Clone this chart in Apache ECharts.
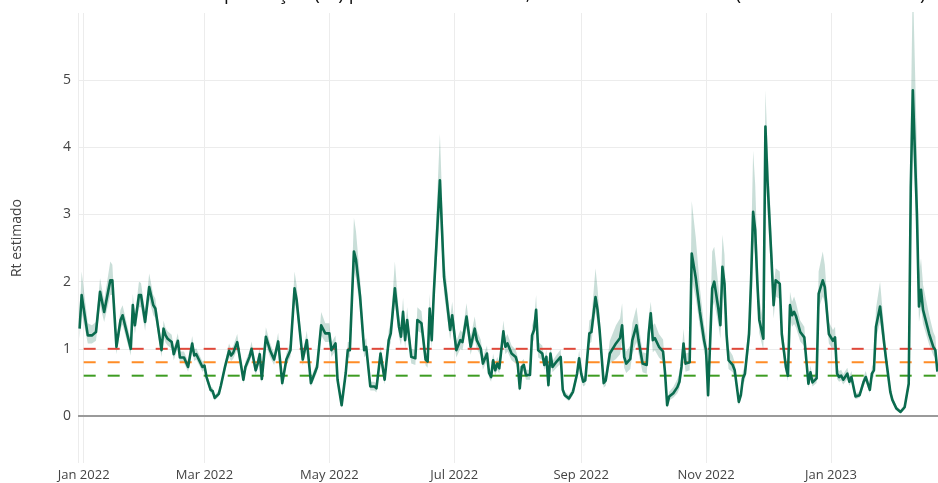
<!DOCTYPE html>
<html>
<head>
<meta charset="utf-8">
<script src="https://cdn.jsdelivr.net/npm/echarts@6/dist/echarts.min.js"></script>
<style>
html,body{margin:0;padding:0;background:#fff;}
#chart{width:938px;height:483px;}
</style>
</head>
<body>
<div id="chart"></div>
<script>
// ---- data ----
const titleText = "Número de reprodução (Rt) para Belo Horizonte, estimado diariamente (dez/2021 a fev/2023)";
const yAxisName = "Rt estimado";

const dates = [
"2021-12-30","2021-12-31","2022-01-03","2022-01-05","2022-01-07","2022-01-09","2022-01-11","2022-01-14","2022-01-15","2022-01-17",
"2022-01-19","2022-01-20","2022-01-24","2022-01-25","2022-01-26","2022-01-28","2022-01-29","2022-01-31","2022-02-02","2022-02-04",
"2022-02-05","2022-02-08","2022-02-09","2022-02-10","2022-02-11","2022-02-13","2022-02-14","2022-02-16","2022-02-17","2022-02-19",
"2022-02-21","2022-02-23","2022-02-24","2022-02-25","2022-02-28","2022-03-01","2022-03-02","2022-03-04","2022-03-05","2022-03-06",
"2022-03-08","2022-03-09","2022-03-11","2022-03-13","2022-03-14","2022-03-15","2022-03-17","2022-03-18","2022-03-20","2022-03-21",
"2022-03-23","2022-03-24","2022-03-26","2022-03-27","2022-03-28","2022-03-29","2022-03-31","2022-04-02","2022-04-04","2022-04-06",
"2022-04-08","2022-04-10","2022-04-12","2022-04-14","2022-04-15","2022-04-18","2022-04-20","2022-04-22","2022-04-25","2022-04-27",
"2022-04-29","2022-05-01","2022-05-02","2022-05-04","2022-05-05","2022-05-07","2022-05-09","2022-05-10","2022-05-11","2022-05-13",
"2022-05-14","2022-05-16","2022-05-18","2022-05-19","2022-05-21","2022-05-23","2022-05-24","2022-05-26","2022-05-28","2022-05-30",
"2022-05-31","2022-06-02","2022-06-04","2022-06-05","2022-06-06","2022-06-07","2022-06-08","2022-06-10","2022-06-12","2022-06-13",
"2022-06-15","2022-06-17","2022-06-18","2022-06-19","2022-06-20","2022-06-21","2022-06-24","2022-06-26","2022-06-27","2022-06-29",
"2022-06-30","2022-07-02","2022-07-04","2022-07-05","2022-07-07","2022-07-09","2022-07-11","2022-07-12","2022-07-14","2022-07-15",
"2022-07-17","2022-07-18","2022-07-19","2022-07-20","2022-07-21","2022-07-22","2022-07-23","2022-07-25","2022-07-26","2022-07-27",
"2022-07-29","2022-07-31","2022-08-01","2022-08-02","2022-08-03","2022-08-04","2022-08-05","2022-08-07","2022-08-08","2022-08-09",
"2022-08-10","2022-08-11","2022-08-13","2022-08-14","2022-08-15","2022-08-16","2022-08-17","2022-08-18","2022-08-20","2022-08-22",
"2022-08-23","2022-08-24","2022-08-26","2022-08-28","2022-08-30","2022-08-31","2022-09-01","2022-09-02","2022-09-03","2022-09-05",
"2022-09-06","2022-09-08","2022-09-09","2022-09-10","2022-09-12","2022-09-13","2022-09-15","2022-09-18","2022-09-20","2022-09-21",
"2022-09-22","2022-09-23","2022-09-25","2022-09-26","2022-09-28","2022-09-29","2022-10-01","2022-10-03","2022-10-04","2022-10-05",
"2022-10-06","2022-10-07","2022-10-09","2022-10-11","2022-10-12","2022-10-13","2022-10-14","2022-10-16","2022-10-18","2022-10-19",
"2022-10-20","2022-10-21","2022-10-22","2022-10-24","2022-10-25","2022-10-27","2022-10-29","2022-10-31","2022-11-01","2022-11-02",
"2022-11-04","2022-11-05","2022-11-07","2022-11-08","2022-11-09","2022-11-10","2022-11-11","2022-11-12","2022-11-14","2022-11-15",
"2022-11-17","2022-11-18","2022-11-19","2022-11-20","2022-11-22","2022-11-23","2022-11-24","2022-11-25","2022-11-26","2022-11-27",
"2022-11-29","2022-11-30","2022-12-01","2022-12-03","2022-12-04","2022-12-05","2022-12-07","2022-12-08","2022-12-10","2022-12-11",
"2022-12-12","2022-12-13","2022-12-14","2022-12-15","2022-12-17","2022-12-19","2022-12-21","2022-12-22","2022-12-23","2022-12-25",
"2022-12-26","2022-12-28","2022-12-29","2022-12-31","2023-01-02","2023-01-03","2023-01-04","2023-01-05","2023-01-06","2023-01-07",
"2023-01-09","2023-01-10","2023-01-11","2023-01-13","2023-01-15","2023-01-17","2023-01-18","2023-01-20","2023-01-21","2023-01-22",
"2023-01-23","2023-01-25","2023-01-27","2023-01-28","2023-01-30","2023-01-31","2023-02-02","2023-02-04","2023-02-06","2023-02-08",
"2023-02-09","2023-02-10","2023-02-12","2023-02-13","2023-02-14","2023-02-15","2023-02-18","2023-02-20","2023-02-21","2023-02-22"
];

const rt = [
1.30,1.80,1.20,1.20,1.25,1.85,1.55,2.02,2.02,1.03,
1.43,1.50,1.00,1.65,1.35,1.80,1.80,1.40,1.92,1.65,
1.60,0.98,1.30,1.20,1.15,1.10,0.92,1.12,0.87,0.87,
0.73,1.08,0.90,0.92,0.73,0.75,0.58,0.39,0.37,0.27,
0.33,0.45,0.73,0.97,0.90,0.94,1.10,0.92,0.54,0.73,
0.88,1.00,0.68,0.78,0.92,0.55,1.18,0.98,0.84,1.11,
0.49,0.84,0.98,1.90,1.73,0.84,1.13,0.49,0.73,1.35,
1.23,1.23,0.98,1.08,0.54,0.16,0.64,0.98,0.98,2.45,
2.33,1.78,0.98,1.03,0.44,0.44,0.41,0.93,0.54,1.13,
1.23,1.90,1.33,1.18,1.55,1.13,1.43,0.88,0.86,1.43,
1.38,0.84,0.81,1.60,1.13,1.82,3.51,2.07,1.82,1.28,
1.50,0.98,1.13,1.10,1.48,1.03,1.30,1.13,1.00,0.78,
0.93,0.64,0.58,0.83,0.68,0.78,0.71,1.26,1.03,1.08,
0.93,0.88,0.78,0.41,0.73,0.76,0.61,0.61,1.20,1.28,
1.58,0.98,0.93,0.76,0.88,0.46,0.93,0.73,0.81,0.88,
0.39,0.31,0.26,0.36,0.63,0.86,0.63,0.51,0.53,1.23,
1.25,1.77,1.58,1.28,0.49,0.53,0.93,1.08,1.16,1.35,
0.88,0.78,0.85,1.13,1.35,1.13,0.78,0.76,1.23,1.53,
1.13,1.16,1.03,0.96,0.63,0.16,0.29,0.34,0.43,0.51,
0.73,1.08,0.78,0.80,2.42,2.05,1.55,1.13,0.98,0.31,
1.90,2.00,1.60,1.35,2.22,1.97,1.22,0.83,0.76,0.68,
0.21,0.31,0.56,0.63,1.22,2.02,3.04,2.77,2.02,1.43,
1.15,4.31,3.51,2.32,1.65,2.02,1.97,1.22,0.73,0.60,
1.65,1.50,1.55,1.48,1.25,1.17,0.48,0.65,0.50,0.56,
1.82,2.02,1.92,1.22,1.12,1.17,0.63,0.58,0.60,0.54,
0.63,0.51,0.58,0.29,0.31,0.51,0.58,0.39,0.63,0.68,
1.33,1.63,1.08,0.83,0.36,0.24,0.11,0.06,0.13,0.48,
3.41,4.85,3.02,1.63,1.88,1.58,1.22,1.03,0.98,0.66
];

const rtLower = [
1.15,1.55,1.08,1.08,1.12,1.65,1.40,1.80,1.80,0.92,
1.30,1.36,0.90,1.48,1.22,1.62,1.62,1.27,1.73,1.50,
1.46,0.88,1.18,1.09,1.05,1.00,0.83,1.02,0.79,0.79,
0.66,0.98,0.82,0.84,0.66,0.68,0.52,0.34,0.32,0.23,
0.29,0.40,0.66,0.88,0.82,0.85,0.99,0.83,0.48,0.66,
0.80,0.90,0.61,0.70,0.83,0.49,1.06,0.88,0.76,1.00,
0.43,0.76,0.88,1.70,1.55,0.75,1.01,0.43,0.65,1.20,
1.10,1.10,0.88,0.97,0.47,0.12,0.56,0.87,0.87,2.15,
2.05,1.58,0.87,0.91,0.38,0.38,0.35,0.82,0.47,1.00,
1.09,1.68,1.18,1.05,1.38,1.00,1.27,0.78,0.76,1.27,
1.23,0.75,0.72,1.42,1.00,1.60,3.05,1.82,1.60,1.13,
1.33,0.87,1.00,0.98,1.31,0.91,1.15,1.00,0.89,0.69,
0.83,0.57,0.51,0.74,0.60,0.69,0.63,1.12,0.92,0.96,
0.83,0.78,0.69,0.36,0.65,0.68,0.54,0.54,1.07,1.14,
1.40,0.87,0.83,0.68,0.78,0.40,0.83,0.65,0.72,0.78,
0.34,0.27,0.22,0.31,0.55,0.76,0.55,0.44,0.46,1.08,
1.10,1.55,1.38,1.12,0.42,0.45,0.78,0.85,0.92,1.10,
0.72,0.64,0.70,0.92,1.10,0.93,0.65,0.63,1.02,1.30,
0.95,0.98,0.87,0.81,0.52,0.12,0.23,0.27,0.34,0.41,
0.60,0.90,0.66,0.68,2.05,1.75,1.32,0.96,0.83,0.24,
1.60,1.70,1.36,1.15,1.88,1.68,1.04,0.70,0.65,0.58,
0.16,0.25,0.47,0.53,1.03,1.72,2.60,2.38,1.74,1.23,
0.98,3.75,3.05,2.02,1.45,1.78,1.74,1.07,0.63,0.52,
1.46,1.33,1.37,1.31,1.11,1.04,0.42,0.57,0.44,0.49,
1.60,1.78,1.70,1.08,0.99,1.03,0.55,0.51,0.53,0.47,
0.55,0.45,0.51,0.25,0.27,0.45,0.51,0.34,0.55,0.59,
1.15,1.40,0.93,0.72,0.30,0.20,0.08,0.04,0.10,0.40,
2.90,4.10,2.55,1.40,1.62,1.37,1.06,0.90,0.86,0.58
];

const rtUpper = [
1.45,2.15,1.38,1.35,1.40,2.05,1.72,2.30,2.25,1.15,
1.58,1.65,1.12,1.82,1.50,2.00,1.98,1.55,2.12,1.80,
1.75,1.08,1.42,1.31,1.26,1.21,1.01,1.23,0.96,0.96,
0.81,1.19,0.99,1.01,0.81,0.83,0.65,0.44,0.42,0.31,
0.38,0.51,0.81,1.08,1.00,1.04,1.22,1.02,0.61,0.81,
0.97,1.11,0.76,0.87,1.02,0.62,1.32,1.09,0.93,1.24,
0.56,0.93,1.09,2.15,1.95,0.94,1.27,0.56,0.82,1.55,
1.38,1.38,1.09,1.20,0.62,0.22,0.73,1.10,1.10,2.95,
2.75,2.05,1.11,1.16,0.51,0.51,0.48,1.05,0.62,1.28,
1.40,2.30,1.52,1.34,1.76,1.28,1.62,1.00,0.98,1.62,
1.56,0.95,0.92,1.82,1.28,2.10,4.20,2.40,2.08,1.45,
1.70,1.11,1.28,1.24,1.68,1.17,1.48,1.28,1.13,0.88,
1.05,0.72,0.66,0.93,0.77,0.88,0.80,1.42,1.16,1.22,
1.05,0.99,0.88,0.47,0.82,0.85,0.69,0.69,1.35,1.44,
1.80,1.10,1.05,0.85,0.99,0.53,1.05,0.82,0.91,0.99,
0.45,0.36,0.31,0.42,0.72,0.98,0.72,0.59,0.61,1.42,
1.45,2.20,1.90,1.50,0.58,0.63,1.12,1.35,1.45,1.68,
1.08,0.96,1.05,1.38,1.62,1.38,0.95,0.93,1.48,1.70,
1.35,1.38,1.22,1.14,0.76,0.22,0.36,0.43,0.55,0.65,
0.90,1.30,0.93,0.95,3.20,2.65,1.90,1.36,1.18,0.40,
2.45,2.52,1.95,1.65,2.70,2.40,1.48,1.00,0.90,0.80,
0.28,0.39,0.67,0.75,1.46,2.50,3.95,3.45,2.50,1.75,
1.40,4.85,4.05,2.70,1.92,2.20,2.15,1.40,0.85,0.70,
1.85,1.70,1.78,1.68,1.42,1.33,0.56,0.75,0.58,0.65,
2.15,2.45,2.25,1.40,1.28,1.33,0.72,0.67,0.69,0.62,
0.72,0.59,0.67,0.34,0.36,0.59,0.67,0.45,0.73,0.79,
1.60,2.00,1.30,0.98,0.43,0.29,0.15,0.09,0.17,0.58,
4.40,6.50,4.00,2.10,2.35,1.95,1.50,1.25,1.18,0.78
];

const thresholds = [1.0, 0.8, 0.6];
const thresholdColors = ["#e0483a", "#ff8c26", "#3d9c22"];
const thresholdStart = "2022-01-01";
const thresholdEnd = "2023-02-22";

const xMin = "2021-12-29 05:20:00";
const xMax = "2023-02-22 07:10:00";
const monthNames = ["Jan","Feb","Mar","Apr","May","Jun","Jul","Aug","Sep","Oct","Nov","Dec"];

// ---- build ----
const chart = echarts.init(document.getElementById('chart'), null, {renderer: 'canvas'});
const pair = (arr) => dates.map((d, i) => [d, arr[i]]);
const bandWidth = dates.map((d, i) => [d, +(rtUpper[i] - rtLower[i]).toFixed(3)]);

const series = [
  {
    name: 'lower', type: 'line', data: pair(rtLower), stack: 'ci',
    symbol: 'none', lineStyle: {opacity: 0}, silent: true, z: 1
  },
  {
    name: 'band', type: 'line', data: bandWidth, stack: 'ci',
    symbol: 'none', lineStyle: {opacity: 0},
    areaStyle: {color: 'rgba(10,107,78,0.22)', opacity: 1}, silent: true, z: 1
  },
  {
    name: 'zero', type: 'line', data: [], silent: true,
    markLine: {
      symbol: 'none', silent: true, label: {show: false},
      lineStyle: {color: '#9a9a9a', width: 2, type: 'solid'},
      data: [{yAxis: 0}]
    }
  }
];
thresholds.forEach((t, k) => {
  series.push({
    name: 'thr' + k, type: 'line', symbol: 'none', silent: true, z: 2,
    data: [[thresholdStart, t], [thresholdEnd, t]],
    lineStyle: {color: thresholdColors[k], width: 2, type: [12, 12]}
  });
});
series.push({
  name: 'Rt', type: 'line', data: pair(rt), symbol: 'none', z: 5,
  lineStyle: {color: '#0a6b4e', width: 2.6, join: 'round'}
});

chart.setOption({
  animation: false,
  backgroundColor: '#ffffff',
  title: {
    text: titleText, left: 95, top: -20,
    textStyle: {fontFamily: 'Open Sans', fontSize: 19, fontWeight: 'normal', color: '#111'}
  },
  grid: {left: 78, right: 0, top: 13, bottom: 20, containLabel: false},
  xAxis: {
    type: 'time', min: xMin, max: xMax, splitNumber: 6,
    axisLine: {show: false}, axisTick: {show: false},
    splitLine: {show: true, lineStyle: {color: '#ececec', width: 1}},
    axisLabel: {
      color: '#444', fontFamily: 'Open Sans', fontSize: 13, margin: 6,
      hideOverlap: false,
      formatter: (v) => { const d = new Date(v); return monthNames[d.getMonth()] + ' ' + d.getFullYear(); }
    }
  },
  yAxis: {
    type: 'value', min: -0.7, max: 6, splitNumber: 7,
    name: yAxisName, nameLocation: 'middle', nameGap: 54,
    nameTextStyle: {color: '#444', fontFamily: 'Open Sans', fontSize: 14},
    axisLine: {show: false}, axisTick: {show: false},
    splitLine: {show: true, showMinLine: false, showMaxLine: false, lineStyle: {color: '#ececec', width: 1}},
    axisLabel: {color: '#444', fontFamily: 'Open Sans', fontSize: 14, margin: 7, showMinLabel: false, showMaxLabel: false}
  },
  series: series
});
</script>
</body>
</html>
